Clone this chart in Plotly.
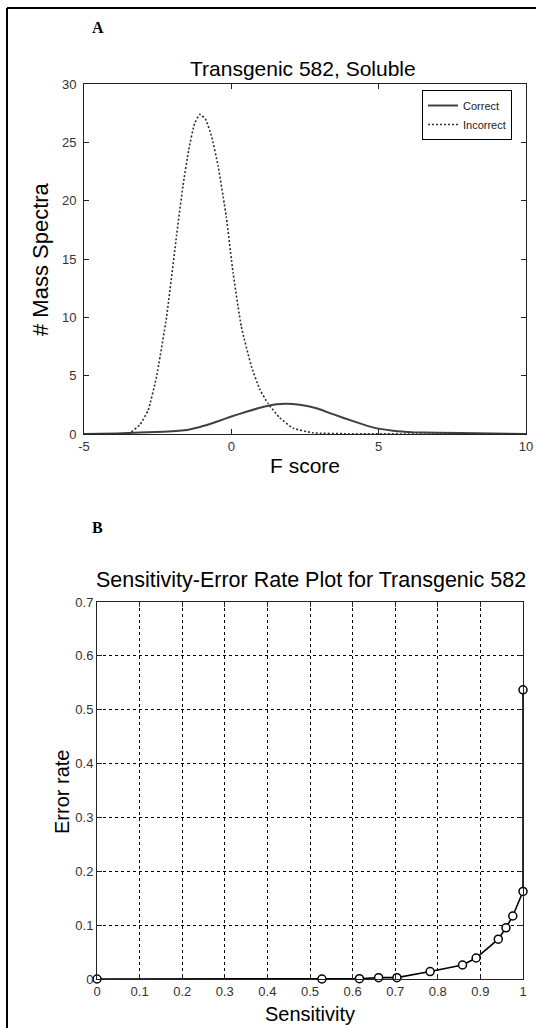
import plotly.graph_objects as go

W, H = 536, 1028

# Panel A data
correct_x = [-5, -3.9, -2.3, -1.5, -1.07, -0.5, 0.0, 0.51, 0.97, 1.53, 1.87, 2.32, 2.89, 3.45, 4.13, 4.8, 5.49, 6.16, 7.75, 10]
correct_y = [0, 0.05, 0.2, 0.35, 0.6, 1.05, 1.5, 1.9, 2.25, 2.55, 2.6, 2.5, 2.2, 1.7, 1.1, 0.57, 0.28, 0.15, 0.08, 0]

incorrect_x = [-5, -3.6, -3.44, -3.1, -2.82, -2.54, -2.2, -1.86, -1.64, -1.45, -1.25, -1.07, -0.88, -0.68, -0.45, -0.17, 0.06, 0.34, 0.68, 0.97, 1.25, 1.64, 2.1, 2.77, 4.0, 10]
incorrect_y = [0, 0.0, 0.1, 0.8, 2.06, 4.9, 10.0, 17.0, 21.3, 24.3, 26.6, 27.4, 27.0, 25.6, 23.0, 18.6, 13.8, 9.2, 5.8, 3.8, 2.6, 1.4, 0.5, 0.1, 0.02, 0]

a_xticks = [-5, 0, 5, 10]
a_xlabels = ["-5", "0", "5", "10"]
a_yticks = [0, 5, 10, 15, 20, 25, 30]

# Panel B data
sens = [0.0, 0.528, 0.616, 0.661, 0.704, 0.782, 0.858, 0.890, 0.942, 0.960, 0.976, 1.0, 1.0]
err = [0.0, 0.0, 0.0006, 0.0025, 0.0025, 0.0138, 0.026, 0.039, 0.074, 0.095, 0.117, 0.1625, 0.537]

b_xticks = [0, 0.1, 0.2, 0.3, 0.4, 0.5, 0.6, 0.7, 0.8, 0.9, 1.0]
b_xlabels = ["0", "0.1", "0.2", "0.3", "0.4", "0.5", "0.6", "0.7", "0.8", "0.9", "1"]
b_yticks = [0, 0.1, 0.2, 0.3, 0.4, 0.5, 0.6, 0.7]
b_ylabels = ["0", "0.1", "0.2", "0.3", "0.4", "0.5", "0.6", "0.7"]

FONT = "Arial, 'Liberation Sans', sans-serif"
TICKC = "#333333"
AXC = "#222222"


def px(x):
    return x / W


def py(y):
    return 1 - y / H


fig = go.Figure()

fig.add_trace(go.Scatter(x=correct_x, y=correct_y, mode="lines", name="Correct",
                         line=dict(color="#404040", width=2, shape="spline", smoothing=0.4),
                         xaxis="x", yaxis="y"))
fig.add_trace(go.Scatter(x=incorrect_x, y=incorrect_y, mode="lines", name="Incorrect",
                         line=dict(color="#303030", width=1.6, dash="2px,2px", shape="spline", smoothing=0.4),
                         xaxis="x", yaxis="y"))

fig.add_trace(go.Scatter(x=sens, y=err, mode="lines+markers", showlegend=False,
                         line=dict(color="black", width=1.6),
                         marker=dict(symbol="circle", size=8, color="white",
                                     line=dict(color="black", width=1.5)),
                         cliponaxis=False, xaxis="x2", yaxis="y2"))

axis_common = dict(showline=True, linecolor=AXC, linewidth=1, mirror="ticks",
                   ticks="inside", ticklen=5, tickcolor=AXC, zeroline=False,
                   tickfont=dict(family=FONT, size=13, color=TICKC), automargin=False)

fig.update_layout(
    width=W, height=H,
    margin=dict(l=0, r=0, t=0, b=0),
    paper_bgcolor="white", plot_bgcolor="white",
    showlegend=True,
    legend=dict(x=px(422), y=py(90), xanchor="left", yanchor="top",
                bordercolor="black", borderwidth=1, bgcolor="white",
                font=dict(family=FONT, size=11, color="#222"),
                tracegroupgap=0, itemwidth=30),
    xaxis=dict(domain=[px(84), px(526)], range=[-5, 10], tickvals=a_xticks, ticktext=a_xlabels,
               showgrid=False, anchor="y", **axis_common),
    yaxis=dict(domain=[py(434), py(84)], range=[0, 30], tickvals=a_yticks,
               showgrid=False, anchor="x", ticklabelstandoff=4, **axis_common),
    xaxis2=dict(domain=[px(97), px(523)], range=[0, 1], tickvals=b_xticks, ticktext=b_xlabels,
                showgrid=True, gridcolor="black", griddash="3px,3px", gridwidth=1,
                anchor="y2", **axis_common),
    yaxis2=dict(domain=[py(979), py(602)], range=[0, 0.7], tickvals=b_yticks, ticktext=b_ylabels,
                showgrid=True, gridcolor="black", griddash="3px,3px", gridwidth=1,
                anchor="x2", **axis_common),
)

ann = []
ann.append(dict(text="<b>A</b>", x=px(90), y=py(27), xref="paper", yref="paper",
                xanchor="left", yanchor="middle", showarrow=False,
                font=dict(family="'Liberation Serif', 'Times New Roman', serif", size=16, color="black")))
ann.append(dict(text="<b>B</b>", x=px(90), y=py(527), xref="paper", yref="paper",
                xanchor="left", yanchor="middle", showarrow=False,
                font=dict(family="'Liberation Serif', 'Times New Roman', serif", size=16, color="black")))
ann.append(dict(text="Transgenic 582, Soluble", x=px(303), y=py(69), xref="paper", yref="paper",
                xanchor="center", yanchor="middle", showarrow=False,
                font=dict(family=FONT, size=21, color="black")))
ann.append(dict(text="Sensitivity-Error Rate Plot for Transgenic 582", x=px(311), y=py(580),
                xref="paper", yref="paper", xanchor="center", yanchor="middle", showarrow=False,
                font=dict(family=FONT, size=21.5, color="black")))
ann.append(dict(text="F score", x=px(305), y=py(466), xref="paper", yref="paper",
                xanchor="center", yanchor="middle", showarrow=False,
                font=dict(family=FONT, size=21, color="black")))
ann.append(dict(text="Sensitivity", x=px(310), y=py(1014), xref="paper", yref="paper",
                xanchor="center", yanchor="middle", showarrow=False,
                font=dict(family=FONT, size=20, color="black")))
ann.append(dict(text="# Mass Spectra", x=px(40), y=py(259), xref="paper", yref="paper",
                xanchor="center", yanchor="middle", showarrow=False, textangle=-90,
                font=dict(family=FONT, size=22, color="black")))
ann.append(dict(text="Error rate", x=px(62), y=py(792), xref="paper", yref="paper",
                xanchor="center", yanchor="middle", showarrow=False, textangle=-90,
                font=dict(family=FONT, size=20, color="black")))
fig.update_layout(annotations=ann)

# outer frame (left and top edges)
fig.update_layout(shapes=[
    dict(type="line", xref="paper", yref="paper", x0=px(7), x1=1.0, y0=py(8), y1=py(8),
         line=dict(color="black", width=2)),
    dict(type="line", xref="paper", yref="paper", x0=px(7), x1=px(7), y0=py(8), y1=0,
         line=dict(color="black", width=2)),
])

fig.write_html("out.html", config={"displayModeBar": False},
               post_script="document.body.style.margin='0';document.body.style.overflow='hidden';")
